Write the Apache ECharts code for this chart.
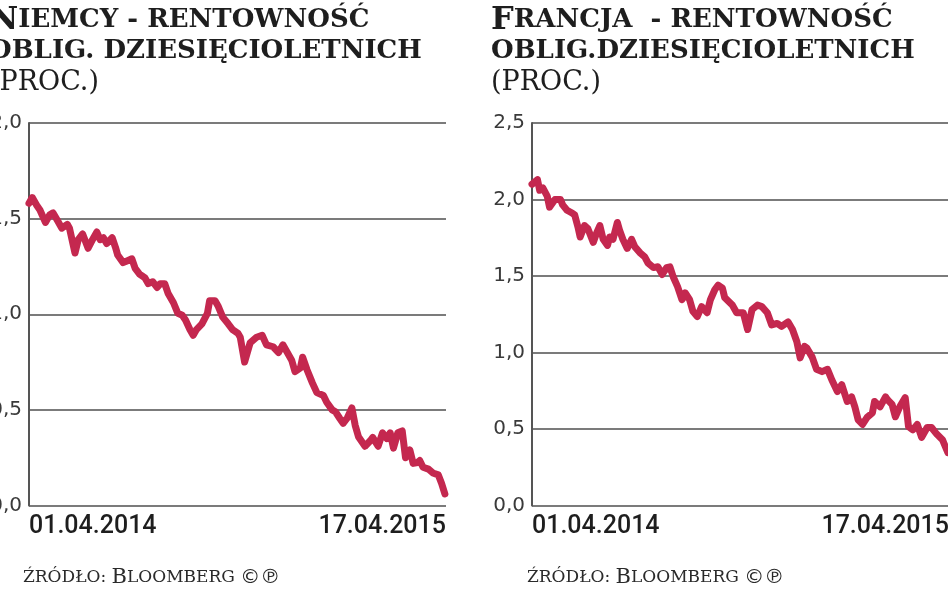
<!DOCTYPE html>
<html><head><meta charset="utf-8">
<script src="https://cdn.jsdelivr.net/npm/echarts@6/dist/echarts.min.js"></script>
<style>html,body{margin:0;padding:0;background:#fff}#c{width:948px;height:593px}</style>
</head><body><div id="c"></div>
<script>
// ---- data ----
const startLabel = '01.04.2014';
const endLabel = '17.04.2015';
const spanDays = 381; // days between the two dates

// Niemcy – days since 01.04.2014
const deDays = [0,3,7,10,15,19,22,26,30,35,
  37,42,45,49,54,58,62,65,68,71,
  76,79,81,86,90,94,97,101,106,109,
  113,117,120,124,127,132,136,140,143,147,
  150,153,158,163,165,170,173,177,182,186,
  191,193,197,202,208,213,217,223,228,232,
  236,240,243,248,250,254,259,263,269,272,
  277,280,284,287,291,295,298,301,307,312,
  314,319,323,327,330,333,337,341,344,348,
  351,355,357,360,365,369,374,377,380];
const deYield = [1.58,1.61,1.57,1.545,1.48,1.52,1.53,1.49,1.45,1.47,
  1.45,1.32,1.39,1.42,1.345,1.39,1.43,1.39,1.40,1.37,
  1.40,1.35,1.31,1.27,1.28,1.29,1.24,1.21,1.19,1.16,
  1.17,1.14,1.16,1.16,1.11,1.06,1.005,0.995,0.97,0.92,
  0.89,0.92,0.95,1.005,1.07,1.07,1.04,0.985,0.95,0.92,
  0.90,0.88,0.75,0.85,0.88,0.89,0.84,0.83,0.80,0.84,
  0.80,0.76,0.70,0.72,0.775,0.71,0.64,0.59,0.575,0.54,
  0.50,0.49,0.455,0.43,0.46,0.51,0.42,0.36,0.31,0.34,
  0.356,0.31,0.38,0.35,0.38,0.30,0.38,0.39,0.25,0.29,
  0.22,0.225,0.235,0.20,0.19,0.17,0.16,0.115,0.06];

// Francja – days since 01.04.2014
const frDays = [0,5,7,10,14,16,21,26,28,32,
  37,39,42,44,48,51,56,59,62,65,
  69,71,74,78,80,83,87,91,94,99,
  103,106,111,115,119,123,126,129,133,137,
  140,144,147,151,155,160,163,167,170,174,
  176,183,187,193,197,201,206,210,215,219,
  224,228,234,238,242,245,249,251,256,260,
  265,270,274,279,283,288,292,295,298,302,
  306,311,313,318,323,325,329,332,336,341,
  344,348,352,356,361,365,370,375,380];
const frYield = [2.10,2.13,2.06,2.075,2.02,1.95,2.00,2.00,1.965,1.93,
  1.91,1.90,1.82,1.755,1.83,1.81,1.72,1.78,1.83,1.74,
  1.70,1.755,1.74,1.85,1.80,1.74,1.68,1.74,1.69,1.65,
  1.625,1.585,1.555,1.56,1.51,1.555,1.56,1.495,1.43,1.345,
  1.39,1.345,1.27,1.235,1.30,1.26,1.345,1.41,1.44,1.42,
  1.36,1.31,1.26,1.26,1.15,1.28,1.31,1.30,1.26,1.18,
  1.19,1.17,1.20,1.15,1.07,0.965,1.04,1.03,0.97,0.89,
  0.875,0.89,0.82,0.745,0.79,0.68,0.71,0.645,0.56,0.53,
  0.575,0.605,0.68,0.645,0.71,0.69,0.66,0.58,0.645,0.705,
  0.515,0.495,0.53,0.445,0.51,0.51,0.465,0.43,0.345];

const deMax = 2.0, frMax = 2.5, yStep = 0.5;

const titleDe = ['N', 'IEMCY - RENTOWNOŚĆ', 'OBLIG. DZIESIĘCIOLETNICH', '(PROC.)'];
const titleFr = ['F', 'RANCJA  - RENTOWNOŚĆ', 'OBLIG.DZIESIĘCIOLETNICH', '(PROC.)'];
const sourceText = ['ŹRÓDŁO: ', 'B', 'LOOMBERG ', '©℗'];

// ---- chart ----
const lineColor = '#c4284f';
const gridColor = '#4f4f4f';
const serif = 'DejaVu Serif';

const richTitle = {
  cap: {fontFamily: serif, fontWeight: 'bold', fontSize: 32, color: '#1e1e1e', lineHeight: 31},
  sc:  {fontFamily: serif, fontWeight: 'bold', fontSize: 26, color: '#1e1e1e', lineHeight: 31},
  reg: {fontFamily: serif, fontWeight: 'normal', fontSize: 27, color: '#1e1e1e', lineHeight: 31}
};
const richSrc = {
  sc: {fontFamily: serif, fontWeight: 'normal', fontSize: 17, color: '#2a2a2a', lineHeight: 21},
  bc: {fontFamily: serif, fontWeight: 'normal', fontSize: 21, color: '#2a2a2a', lineHeight: 21},
  sym: {fontFamily: 'DejaVu Sans', fontWeight: 'normal', fontSize: 20, color: '#2a2a2a', lineHeight: 21}
};
function titleText(t){ return '{cap|' + t[0] + '}{sc|' + t[1] + '}\n{sc|' + t[2] + '}\n{reg|' + t[3] + '}'; }
function srcText(s){ return '{sc|' + s[0] + '}{bc|' + s[1] + '}{sc|' + s[2] + '}{sym|' + s[3] + '}'; }

function yAxisCfg(gi, max){
  return {type: 'value', gridIndex: gi, min: 0, max: max, interval: yStep,
    axisLine: {show: true, lineStyle: {color: '#555', width: 2}},
    axisTick: {show: false},
    splitLine: {lineStyle: {color: gridColor, width: 1.6}},
    axisLabel: {margin: 7, color: '#3a3a3a', fontFamily: 'DejaVu Sans', fontSize: 20,
      formatter: v => v.toFixed(1).replace('.', ',')}};
}
function xAxisCfg(gi){
  return {type: 'value', gridIndex: gi, min: 0, max: spanDays, interval: spanDays,
    axisLine: {show: false}, axisTick: {show: false}, splitLine: {show: false},
    axisLabel: {margin: 9, color: '#1e1e1e', fontFamily: 'Roboto', fontWeight: 500, fontSize: 25,
      showMinLabel: true, showMaxLabel: true, hideOverlap: false,
      alignMinLabel: 'left', alignMaxLabel: 'right',
      formatter: v => (v === 0 ? startLabel : endLabel)}};
}
function seriesCfg(gi, days, vals){
  return {type: 'line', xAxisIndex: gi, yAxisIndex: gi, showSymbol: false, silent: true,
    data: days.map((d, i) => [d, vals[i]]),
    lineStyle: {color: lineColor, width: 7, join: 'round', cap: 'round'}};
}

const chart = echarts.init(document.getElementById('c'), null, {renderer: 'canvas'});
chart.setOption({
  backgroundColor: '#fff',
  animation: false,
  title: [
    {left: -11, top: 5, padding: 0, text: titleText(titleDe), textStyle: {rich: richTitle}},
    {left: 491, top: 5, padding: 0, text: titleText(titleFr), textStyle: {rich: richTitle}},
    {left: 23, top: 567, padding: 0, text: srcText(sourceText), textStyle: {fontWeight: 'normal', rich: richSrc}},
    {left: 527, top: 567, padding: 0, text: srcText(sourceText), textStyle: {fontWeight: 'normal', rich: richSrc}}
  ],
  grid: [
    {left: 29, top: 123, width: 417, bottom: 87.5, containLabel: false, outerBoundsMode: 'none'},
    {left: 532, top: 123, width: 417, bottom: 87.5, containLabel: false, outerBoundsMode: 'none'}
  ],
  xAxis: [xAxisCfg(0), xAxisCfg(1)],
  yAxis: [yAxisCfg(0, deMax), yAxisCfg(1, frMax)],
  series: [seriesCfg(0, deDays, deYield), seriesCfg(1, frDays, frYield)]
});
</script></body></html>
